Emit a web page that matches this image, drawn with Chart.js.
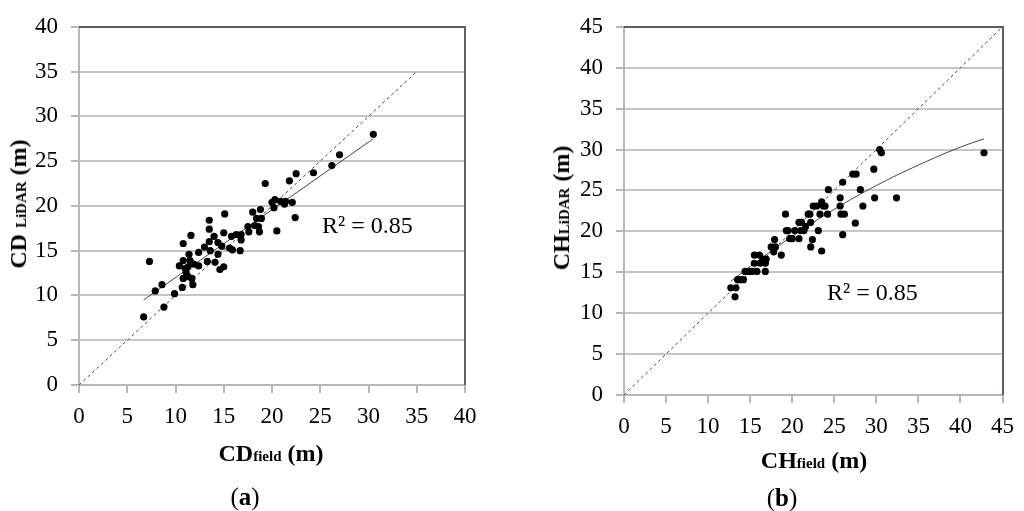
<!DOCTYPE html>
<html>
<head>
<meta charset="utf-8">
<script src="https://cdn.jsdelivr.net/npm/chart.js@4.4.0/dist/chart.umd.min.js"></script>
<style>
  body { margin: 0; background: #fff; }
  #wrap { position: relative; width: 1024px; height: 511px; overflow: hidden; font-family: "Liberation Serif", serif; color: #000; }
  canvas { position: absolute; top: 0; }
  .lbl { position: absolute; white-space: nowrap; transform: translate(-50%, -50%); line-height: 1; }
  .ttl { font-weight: bold; font-size: 24px; }
  .ttl small { font-size: 15px; }
  .rot { transform: translate(-50%, -50%) rotate(-90deg); }
  .r2 { font-size: 24px; transform: translate(0, -50%); }
  .pan { font-size: 25px; }
</style>
</head>
<body>
<div id="wrap">
  <canvas id="chartA" width="520" height="511" style="left:0"></canvas>
  <canvas id="chartB" width="504" height="511" style="left:520px"></canvas>

  <div class="lbl ttl rot" style="left:18px; top:204px">CD <small>LiDAR</small> (m)</div>
  <div class="lbl ttl" style="left:271px; top:453px">CD<small>field</small> (m)</div>
  <div class="lbl r2" style="left:322px; top:225px">R² = 0.85</div>
  <div class="lbl pan" style="left:245px; top:496px">(<b>a</b>)</div>

  <div class="lbl ttl rot" style="left:561px; top:208px">CH<small>LiDAR</small> (m)</div>
  <div class="lbl ttl" style="left:814px; top:460px">CH<small>field</small> (m)</div>
  <div class="lbl r2" style="left:827px; top:292px">R² = 0.85</div>
  <div class="lbl pan" style="left:782px; top:497px">(<b>b</b>)</div>
</div>
<script>
// (a) crown diameter, field vs LiDAR
const cdField = [6.7, 7.3, 7.9, 8.6, 8.8, 9.9, 10.7, 10.8, 10.4, 10.8, 11.0, 11.1, 10.8, 11.3, 11.4,
  11.6, 11.5, 11.7, 11.8, 11.3, 11.9, 12.4, 12.4, 13.0, 13.3, 13.5, 13.5, 13.6, 13.5, 14.0,
  14.1, 14.4, 14.4, 14.6, 15.0, 14.8, 15.0, 15.1, 15.6, 15.9, 15.8, 16.3, 16.7, 16.8, 16.8,
  17.5, 17.6, 18.0, 18.2, 18.4, 18.6, 18.7, 18.9, 18.8, 19.3, 20.0, 20.2, 20.3, 20.5, 20.9,
  21.3, 21.4, 22.1, 22.4, 21.8, 22.5, 24.3, 26.2, 27.0, 30.5];
const cdLidar = [7.6, 13.8, 10.5, 11.2, 8.7, 10.2, 10.9, 15.8, 13.3, 13.9, 13.0, 12.6, 11.9, 13.2, 14.6,
  16.7, 13.9, 11.9, 11.2, 12.1, 13.5, 13.3, 14.8, 15.4, 13.8, 18.4, 17.4, 15.0, 16.0, 16.6,
  13.7, 15.9, 14.6, 12.9, 13.2, 15.5, 17.0, 19.1, 15.3, 15.1, 16.6, 16.8, 15.0, 16.8, 16.2,
  17.7, 17.1, 19.3, 17.8, 18.6, 17.7, 17.1, 18.6, 19.6, 22.5, 20.4, 19.8, 20.7, 17.2, 20.5,
  20.2, 20.5, 20.4, 18.7, 22.8, 23.6, 23.7, 24.5, 25.7, 28.0];
const cdTrendX = [6.7, 30.5];
const cdTrendY = [9.5, 27.5];
const cdOneToOne = [0, 35];
const cdMax = 40;

// (b) crown height, field vs LiDAR
const chField = [12.7, 13.3, 13.2, 13.5, 13.8, 14.2, 14.4, 14.8, 15.2, 15.5, 15.5, 15.8, 16.1, 16.2, 16.5,
  16.8, 16.8, 16.9, 17.5, 17.8, 18.0, 17.9, 18.7, 19.2, 19.3, 19.5, 19.7, 20.0, 20.3, 20.8,
  20.8, 21.0, 21.1, 21.4, 21.6, 21.9, 22.2, 22.1, 22.2, 22.4, 22.5, 22.9, 23.1, 23.3, 23.5,
  23.5, 23.7, 23.9, 24.2, 24.3, 25.7, 25.7, 25.8, 26.0, 26.2, 26.0, 27.2, 27.6, 27.5, 28.1,
  28.4, 29.7, 29.8, 30.4, 30.6, 32.4, 42.8];
const chLidar = [13.1, 13.1, 12.0, 14.1, 14.1, 14.1, 15.1, 15.1, 15.1, 17.1, 16.1, 15.1, 17.1, 16.1, 16.6,
  16.1, 15.1, 16.6, 18.1, 17.5, 18.1, 19.0, 17.1, 22.1, 20.1, 20.1, 19.1, 19.1, 20.1, 21.1,
  19.1, 20.1, 21.1, 20.1, 20.6, 22.1, 21.1, 22.1, 18.1, 19.0, 23.1, 23.1, 20.1, 22.1, 23.6,
  17.6, 23.1, 23.1, 22.1, 25.1, 24.1, 23.1, 22.1, 26.0, 22.1, 19.6, 27.0, 27.0, 21.0, 25.1,
  23.1, 27.6, 24.1, 30.0, 29.6, 24.1, 29.6];
const chTrendX = [12.7, 15, 20, 25, 30, 35, 40, 42.8];
const chTrendY = [13.9, 15.7, 19.4, 22.7, 25.6, 28.1, 30.3, 31.3];
const chOneToOne = [0, 45];
const chMax = 45;

const gridColor = "rgb(194, 197, 202)";
const axisColor = "rgb(180, 184, 190)";
const edgeColor = "rgb(92, 96, 102)";

const pairs = (xs, ys) => xs.map((x, i) => ({ x: x, y: ys[i] }));

// dark top/right box edges and the small tick marks outside the axes
const frame = {
  id: "frame",
  afterDraw(chart) {
    const ctx = chart.ctx;
    const a = chart.chartArea;
    const sx = chart.scales.x;
    const sy = chart.scales.y;
    ctx.save();
    ctx.lineWidth = 2;
    ctx.strokeStyle = axisColor;
    ctx.beginPath();
    sx.ticks.forEach((t) => {
      const px = Math.round(sx.getPixelForValue(t.value));
      ctx.moveTo(px, a.bottom);
      ctx.lineTo(px, a.bottom + 8);
    });
    sy.ticks.forEach((t) => {
      const py = Math.round(sy.getPixelForValue(t.value));
      ctx.moveTo(a.left - 8, py);
      ctx.lineTo(a.left, py);
    });
    ctx.stroke();
    ctx.strokeStyle = edgeColor;
    ctx.beginPath();
    ctx.moveTo(Math.round(a.left), Math.round(a.top));
    ctx.lineTo(Math.round(a.right), Math.round(a.top));
    ctx.lineTo(Math.round(a.right), Math.round(a.bottom));
    ctx.stroke();
    ctx.restore();
  },
};

function makeChart(id, xs, ys, trendX, trendY, diag, max, box) {
  const tickFont = { family: "Liberation Serif", size: 23 };
  return new Chart(document.getElementById(id).getContext("2d"), {
    type: "scatter",
    data: {
      datasets: [
        {
          data: pairs(xs, ys),
          backgroundColor: "#000",
          borderWidth: 0,
          pointRadius: 3.6,
        },
        {
          data: pairs(trendX, trendY),
          showLine: true,
          borderColor: "#444",
          borderWidth: 1,
          pointRadius: 0,
          tension: 0.4,
        },
        {
          data: pairs(diag, diag),
          showLine: true,
          borderColor: "#444",
          borderWidth: 1,
          borderDash: [3, 3],
          pointRadius: 0,
        },
      ],
    },
    options: {
      responsive: false,
      animation: false,
      layout: { padding: box.padding },
      plugins: { legend: { display: false }, tooltip: { enabled: false } },
      scales: {
        x: {
          type: "linear",
          min: 0,
          max: max,
          ticks: { font: tickFont, color: "#000", padding: 10, maxRotation: 0, stepSize: 5 },
          afterFit: (s) => { s.height = 40; },
          grid: { drawOnChartArea: false, tickLength: 8, color: axisColor, lineWidth: 2 },
          border: { color: axisColor, width: 2 },
        },
        y: {
          type: "linear",
          min: 0,
          max: max,
          ticks: { font: tickFont, color: "#000", padding: 13, stepSize: 5 },
          afterFit: (s) => { s.width = box.yWidth; },
          grid: { tickLength: 8, color: gridColor, lineWidth: 2 },
          border: { color: axisColor, width: 2 },
        },
      },
    },
    plugins: [frame],
  });
}

makeChart("chartA", cdField, cdLidar, cdTrendX, cdTrendY, cdOneToOne, cdMax,
  { yWidth: 79, padding: { left: 0, top: 15, right: 55, bottom: 86 } });
makeChart("chartB", chField, chLidar, chTrendX, chTrendY, chOneToOne, chMax,
  { yWidth: 104, padding: { left: 0, top: 22, right: 17, bottom: 76 } });
</script>
</body>
</html>
